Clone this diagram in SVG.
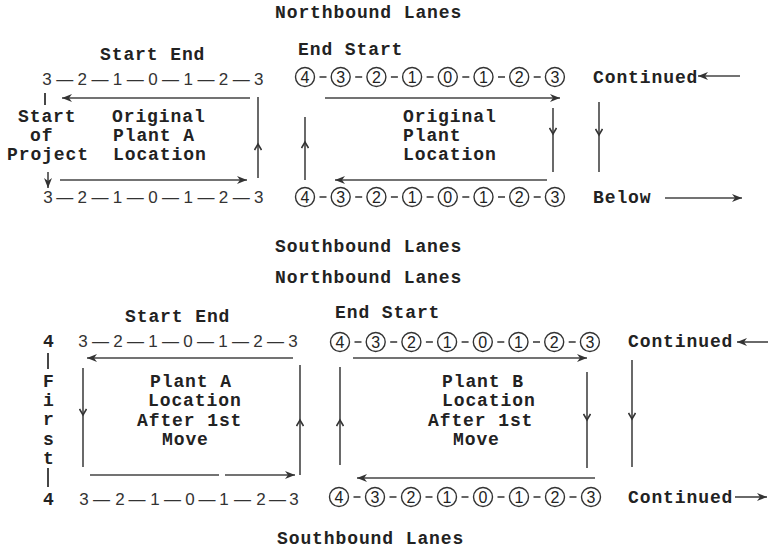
<svg xmlns="http://www.w3.org/2000/svg" width="768" height="550" viewBox="0 0 768 550">
<defs>
<style>
.t{font-family:"Liberation Mono","DejaVu Sans Mono",monospace;font-size:18px;font-weight:bold;letter-spacing:0.9px;fill:#222}
.n{font-family:"Liberation Sans",Arial,sans-serif;font-size:17px;fill:#333;text-anchor:middle}
.cd{font-family:"Liberation Sans",Arial,sans-serif;font-size:16px;fill:#222;text-anchor:middle}
.c{fill:none;stroke:#333;stroke-width:1.4}
.h{stroke:#333;stroke-width:1.3}
.ln{fill:none;stroke:#444;stroke-width:1.6}
.bar{stroke:#333;stroke-width:1.8}
.ae{marker-end:url(#ah)}
.am{marker-mid:url(#mid)}
</style>
<marker id="ah" viewBox="0 0 10 8" refX="10" refY="4" markerWidth="10" markerHeight="8" markerUnits="userSpaceOnUse" orient="auto">
<path d="M0,0 L10,4 L0,8 L3,4 z" fill="#333"/>
</marker>
<marker id="mid" viewBox="0 0 10 8" refX="6" refY="4" markerWidth="10" markerHeight="8" markerUnits="userSpaceOnUse" orient="auto">
<path d="M1,0.5 L7,4 L1,7.5" fill="none" stroke="#333" stroke-width="1.6"/>
</marker>
</defs>
<rect width="768" height="550" fill="#fff"/>

<g id="headings">
<text class="t" x="275" y="18">Northbound Lanes</text>
<text class="t" x="275" y="252">Southbound Lanes</text>
<text class="t" x="275" y="283">Northbound Lanes</text>
<text class="t" x="277" y="544">Southbound Lanes</text>
</g>

<g id="plant-a-original">
<text class="t" x="100" y="60">Start End</text>
<text class="n" x="47 64.7 82.3 100 117.6 135.3 152.9 170.6 188.2 205.9 223.5 241.2 258.8" y="85">3—2—1—0—1—2—3</text>
<text class="t" x="18" y="122">Start</text>
<text class="t" x="30" y="141">of</text>
<text class="t" x="7" y="160">Project</text>
<text class="t" x="112" y="122">Original</text>
<text class="t" x="113" y="141">Plant A</text>
<text class="t" x="113" y="160">Location</text>
<text class="n" x="48 64.7 82.3 100 117.6 135.3 152.9 170.6 188.2 205.9 223.5 241.2 258.8" y="203">3—2—1—0—1—2—3</text>
</g>

<g id="plant-original">
<text class="t" x="298" y="55">End Start</text>
<g id="circles-top-1">
<circle class="c" cx="305" cy="77" r="9.5"/><circle class="c" cx="340.7" cy="77" r="9.5"/><circle class="c" cx="376.4" cy="77" r="9.5"/><circle class="c" cx="412.1" cy="77" r="9.5"/><circle class="c" cx="447.8" cy="77" r="9.5"/><circle class="c" cx="483.5" cy="77" r="9.5"/><circle class="c" cx="519.2" cy="77" r="9.5"/><circle class="c" cx="554.9" cy="77" r="9.5"/>
<path class="h" d="M319.5,77h7M355.2,77h7M390.9,77h7M426.6,77h7M462.3,77h7M498,77h7M533.7,77h7"/>
<text class="cd" x="305 340.7 376.4 412.1 447.8 483.5 519.2 554.9" y="82.8">43210123</text>
</g>
<text class="t" x="403" y="122">Original</text>
<text class="t" x="403" y="141">Plant</text>
<text class="t" x="403" y="160">Location</text>
<g id="circles-bottom-1">
<circle class="c" cx="305" cy="197" r="9.5"/><circle class="c" cx="340.7" cy="197" r="9.5"/><circle class="c" cx="376.4" cy="197" r="9.5"/><circle class="c" cx="412.1" cy="197" r="9.5"/><circle class="c" cx="447.8" cy="197" r="9.5"/><circle class="c" cx="483.5" cy="197" r="9.5"/><circle class="c" cx="519.2" cy="197" r="9.5"/><circle class="c" cx="554.9" cy="197" r="9.5"/>
<path class="h" d="M319.5,197h7M355.2,197h7M390.9,197h7M426.6,197h7M462.3,197h7M498,197h7M533.7,197h7"/>
<text class="cd" x="305 340.7 376.4 412.1 447.8 483.5 519.2 554.9" y="202.8">43210123</text>
</g>
</g>

<g id="continued-top">
<text class="t" x="593" y="83">Continued</text>
<text class="t" x="593" y="203">Below</text>
</g>

<g id="plant-a-after">
<text class="t" x="125" y="322">Start End</text>
<text class="t" x="43" y="347">4</text>
<text class="n" x="83 100.5 118 135.5 153 170.5 188 205.5 223 240.5 258 275.5 293" y="347">3—2—1—0—1—2—3</text>
<text class="t" x="43" y="387">F</text>
<text class="t" x="43" y="406">i</text>
<text class="t" x="43" y="425">r</text>
<text class="t" x="43" y="445">s</text>
<text class="t" x="43" y="464">t</text>
<text class="t" x="43" y="505">4</text>
<text class="n" x="84 101.5 120 137 155 172.5 190 207 224 242.5 261 277.5 294" y="505">3—2—1—0—1—2—3</text>
<text class="t" x="150" y="387">Plant A</text>
<text class="t" x="148" y="406">Location</text>
<text class="t" x="137" y="426">After 1st</text>
<text class="t" x="162" y="445">Move</text>
</g>

<g id="plant-b-after">
<text class="t" x="335" y="318">End Start</text>
<g id="circles-top-2">
<circle class="c" cx="340" cy="342" r="9.5"/><circle class="c" cx="375.7" cy="342" r="9.5"/><circle class="c" cx="411.4" cy="342" r="9.5"/><circle class="c" cx="447.1" cy="342" r="9.5"/><circle class="c" cx="482.8" cy="342" r="9.5"/><circle class="c" cx="518.5" cy="342" r="9.5"/><circle class="c" cx="554.2" cy="342" r="9.5"/><circle class="c" cx="589.9" cy="342" r="9.5"/>
<path class="h" d="M354.5,342h7M390.2,342h7M425.9,342h7M461.6,342h7M497.3,342h7M533,342h7M568.7,342h7"/>
<text class="cd" x="340 375.7 411.4 447.1 482.8 518.5 554.2 589.9" y="347.8">43210123</text>
</g>
<text class="t" x="442" y="387">Plant B</text>
<text class="t" x="442" y="406">Location</text>
<text class="t" x="428" y="426">After 1st</text>
<text class="t" x="453" y="445">Move</text>
<g id="circles-bottom-2">
<circle class="c" cx="339" cy="497" r="9.5"/><circle class="c" cx="375" cy="497" r="9.5"/><circle class="c" cx="411" cy="497" r="9.5"/><circle class="c" cx="447" cy="497" r="9.5"/><circle class="c" cx="483" cy="497" r="9.5"/><circle class="c" cx="519" cy="497" r="9.5"/><circle class="c" cx="555" cy="497" r="9.5"/><circle class="c" cx="591" cy="497" r="9.5"/>
<path class="h" d="M353.5,497h7M389.5,497h7M425.5,497h7M461.5,497h7M497.5,497h7M533.5,497h7M569.5,497h7"/>
<text class="cd" x="339 375 411 447 483 519 555 591" y="502.8">43210123</text>
</g>
</g>

<g id="continued-bottom">
<text class="t" x="628" y="347">Continued</text>
<text class="t" x="628" y="503">Continued</text>
</g>

<g id="connectors">
<line class="bar" x1="45" y1="93" x2="45" y2="105"/>
<line class="ln ae" x1="250" y1="98" x2="62" y2="98"/>
<polyline class="ln am" points="258,178 258,145 258,97"/>
<line class="ln ae" x1="48" y1="172" x2="48" y2="188"/>
<line class="ln ae" x1="60" y1="180" x2="247" y2="180"/>
<line class="ln ae" x1="325" y1="98" x2="560" y2="98"/>
<polyline class="ln am" points="553,108 553,133 553,172"/>
<line class="ln ae" x1="547" y1="180" x2="335" y2="180"/>
<polyline class="ln am" points="305,180 305,143 305,117"/>
<line class="ln ae" x1="740" y1="76" x2="698" y2="76"/>
<polyline class="ln am" points="599,102 599,134 599,172"/>
<line class="ln ae" x1="665" y1="198" x2="742" y2="198"/>
<line class="bar" x1="48" y1="353" x2="48" y2="369"/>
<line class="bar" x1="48" y1="468" x2="48" y2="487"/>
<line class="ln ae" x1="293" y1="358" x2="87" y2="358"/>
<polyline class="ln am" points="83,368 83,414 83,467"/>
<polyline class="ln am" points="300,475 300,421 300,365"/>
<line class="ln" x1="90" y1="475" x2="219" y2="475"/>
<line class="ln ae" x1="225" y1="475" x2="295" y2="475"/>
<line class="ln ae" x1="353" y1="358" x2="587" y2="358"/>
<polyline class="ln am" points="587,372 587,419 587,468"/>
<line class="ln ae" x1="595" y1="478" x2="357" y2="478"/>
<polyline class="ln am" points="340,465 340,421 340,367"/>
<line class="ln ae" x1="768" y1="342" x2="737" y2="342"/>
<polyline class="ln am" points="632,360 632,418 632,467"/>
<line class="ln ae" x1="735" y1="497" x2="767" y2="497"/>
</g>
</svg>
